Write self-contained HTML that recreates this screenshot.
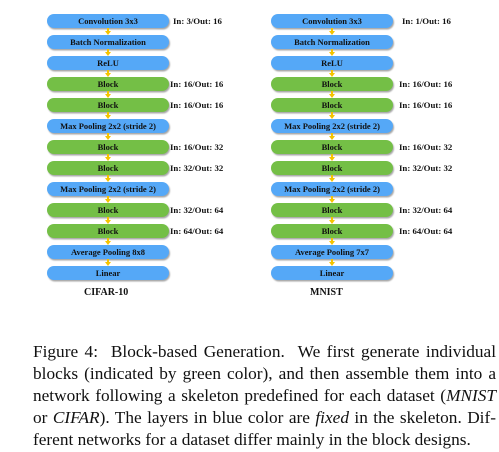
<!DOCTYPE html>
<html><head><meta charset="utf-8"><style>
body{margin:0;width:499px;height:452px;background:#fff;position:relative;overflow:hidden;font-family:"Liberation Serif",serif}
.box{position:absolute;width:122px;height:14px;border-radius:7px;font:bold 8.5px/14px "Liberation Serif",serif;text-align:center;color:#111;box-shadow:1px 1.5px 1.5px rgba(0,0,0,.35)}
.b{background:#55a8f7}.g{background:#74bf46}
.lab{position:absolute;font:bold 8.8px/14px "Liberation Serif",serif;color:#111;white-space:nowrap}
.arr{position:absolute;width:0;height:0;border-left:3px solid transparent;border-right:3px solid transparent;border-top:4px solid #f5c400}
.arrs{position:absolute;width:1.5px;height:4px;background:#f5c400}
.title{position:absolute;font:bold 10px "Liberation Serif",serif;color:#111}
.cap{position:absolute;left:33px;width:463px;font-size:17.3px;line-height:22px;color:#111;text-align:justify;text-align-last:justify;white-space:nowrap}
</style></head><body>
<div id="fig"></div>
<div class="title" style="left:84px;top:287px">CIFAR-10</div>
<div class="title" style="left:310px;top:287px">MNIST</div>
<div class="cap" style="top:341px;text-align-last:justify;white-space:normal">Figure 4: &nbsp;Block-based Generation. &nbsp;We first generate individual</div>
<div class="cap" style="top:363px;white-space:normal">blocks (indicated by green color), and then assemble them into a</div>
<div class="cap" style="top:385px;white-space:normal">network following a skeleton predefined for each dataset (<i>MNIST</i></div>
<div class="cap" style="top:407px;white-space:normal">or <i>CIFAR</i>). The layers in blue color are <i>fixed</i> in the skeleton. Dif-</div>
<div class="cap" style="top:429px;text-align-last:left;white-space:normal">ferent networks for a dataset differ mainly in the block designs.</div>
<script>
const layers=["Convolution 3x3","Batch Normalization","ReLU","Block","Block","Max Pooling 2x2 (stride 2)","Block","Block","Max Pooling 2x2 (stride 2)","Block","Block","Average Pooling 8x8","Linear"];
const layersM=["Convolution 3x3","Batch Normalization","ReLU","Block","Block","Max Pooling 2x2 (stride 2)","Block","Block","Max Pooling 2x2 (stride 2)","Block","Block","Average Pooling 7x7","Linear"];
const labelsC=["In: 3/Out: 16","","","In: 16/Out: 16","In: 16/Out: 16","","In: 16/Out: 32","In: 32/Out: 32","","In: 32/Out: 64","In: 64/Out: 64","",""];
const labelsM=["In: 1/Out: 16","","","In: 16/Out: 16","In: 16/Out: 16","","In: 16/Out: 32","In: 32/Out: 32","","In: 32/Out: 64","In: 64/Out: 64","",""];
function col(x0,names,labs,off0,off){
  names.forEach((n,i)=>{
    const y=14+i*21;
    const d=document.createElement('div');
    d.className='box '+(n==='Block'?'g':'b');
    d.style.left=x0+'px';d.style.top=y+'px';d.textContent=n;
    
    
    document.body.appendChild(d);
    if(labs[i]){
      const l=document.createElement('div');l.className='lab';
      l.style.left=(x0+(i===0?off0:off))+'px';l.style.top=y+'px';l.textContent=labs[i];
      
      
      document.body.appendChild(l);
    }
    if(i<names.length-1){
      const s=document.createElement('div');s.className='arrs';
      s.style.left=(x0+60.3)+'px';s.style.top=(y+14)+'px';
      
      
      document.body.appendChild(s);
      const a=document.createElement('div');a.className='arr';
      a.style.left=(x0+58)+'px';a.style.top=(y+17)+'px';
      
      
      document.body.appendChild(a);
    }
  });
}
col(47,layers,labelsC,126,123);
col(271,layersM,labelsM,131,128);
</script>
</body></html>
